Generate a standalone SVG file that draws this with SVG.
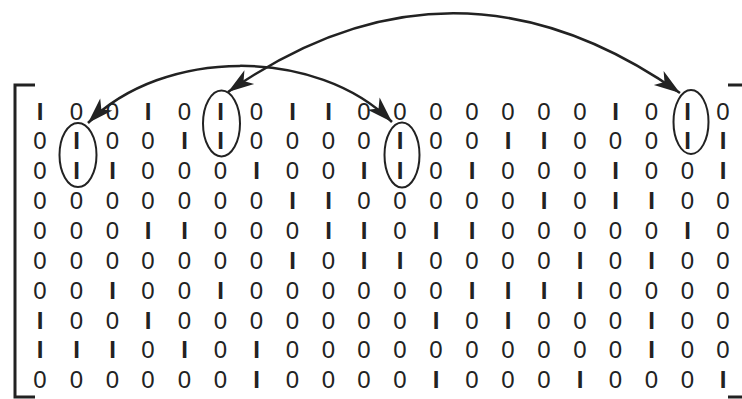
<svg xmlns="http://www.w3.org/2000/svg" width="742" height="399" viewBox="0 0 742 399">
<style>
text{font-family:"Liberation Sans",Arial,sans-serif;font-size:24px;fill:#222;text-anchor:middle}
text.i{font-weight:700}
.br{fill:none;stroke:#222;stroke-width:3}
.el{fill:none;stroke:#222;stroke-width:2}
.arc{fill:none;stroke:#222;stroke-width:2.5}
</style>
<defs>
<marker id="ah" markerUnits="userSpaceOnUse" viewBox="-28 -10 30 20" markerWidth="30" markerHeight="20" refX="0" refY="0" orient="auto-start-reverse" overflow="visible">
<path d="M0,0 L-26,-8.5 L-19,0 L-26,8.5 Z" fill="#222"/>
</marker>
</defs>
<g id="brackets">
<path class="br" d="M35,85 H15 V397 H35"/>
<path class="br" d="M728,85 H744 V397 H728"/>
</g>
<g id="matrix">
<g id="row1">
<text class="i" x="40" y="119.5">I</text><text x="76.5" y="119.5">0</text><text x="112.5" y="119.5">0</text><text class="i" x="148" y="119.5">I</text><text x="184.5" y="119.5">0</text><text class="i" x="220.5" y="119.5">I</text><text x="256.5" y="119.5">0</text><text class="i" x="292.5" y="119.5">I</text><text class="i" x="328.5" y="119.5">I</text><text x="364" y="119.5">0</text><text x="400" y="119.5">0</text><text x="436" y="119.5">0</text><text x="472" y="119.5">0</text><text x="508" y="119.5">0</text><text x="544" y="119.5">0</text><text x="580" y="119.5">0</text><text class="i" x="615.5" y="119.5">I</text><text x="651.5" y="119.5">0</text><text class="i" x="687.5" y="119.5">I</text><text x="723" y="119.5">0</text>
</g>
<g id="row2">
<text x="40" y="149.4">0</text><text class="i" x="76.5" y="149.4">I</text><text x="112.5" y="149.4">0</text><text x="148" y="149.4">0</text><text class="i" x="184.5" y="149.4">I</text><text class="i" x="220.5" y="149.4">I</text><text x="256.5" y="149.4">0</text><text x="292.5" y="149.4">0</text><text x="328.5" y="149.4">0</text><text x="364" y="149.4">0</text><text class="i" x="400" y="149.4">I</text><text x="436" y="149.4">0</text><text x="472" y="149.4">0</text><text class="i" x="508" y="149.4">I</text><text class="i" x="544" y="149.4">I</text><text x="580" y="149.4">0</text><text x="615.5" y="149.4">0</text><text x="651.5" y="149.4">0</text><text class="i" x="687.5" y="149.4">I</text><text class="i" x="723" y="149.4">I</text>
</g>
<g id="row3">
<text x="40" y="179.2">0</text><text class="i" x="76.5" y="179.2">I</text><text class="i" x="112.5" y="179.2">I</text><text x="148" y="179.2">0</text><text x="184.5" y="179.2">0</text><text x="220.5" y="179.2">0</text><text class="i" x="256.5" y="179.2">I</text><text x="292.5" y="179.2">0</text><text x="328.5" y="179.2">0</text><text class="i" x="364" y="179.2">I</text><text class="i" x="400" y="179.2">I</text><text x="436" y="179.2">0</text><text class="i" x="472" y="179.2">I</text><text x="508" y="179.2">0</text><text x="544" y="179.2">0</text><text x="580" y="179.2">0</text><text class="i" x="615.5" y="179.2">I</text><text x="651.5" y="179.2">0</text><text x="687.5" y="179.2">0</text><text class="i" x="723" y="179.2">I</text>
</g>
<g id="row4">
<text x="40" y="209.1">0</text><text x="76.5" y="209.1">0</text><text x="112.5" y="209.1">0</text><text x="148" y="209.1">0</text><text x="184.5" y="209.1">0</text><text x="220.5" y="209.1">0</text><text x="256.5" y="209.1">0</text><text class="i" x="292.5" y="209.1">I</text><text class="i" x="328.5" y="209.1">I</text><text x="364" y="209.1">0</text><text x="400" y="209.1">0</text><text x="436" y="209.1">0</text><text x="472" y="209.1">0</text><text x="508" y="209.1">0</text><text class="i" x="544" y="209.1">I</text><text x="580" y="209.1">0</text><text class="i" x="615.5" y="209.1">I</text><text class="i" x="651.5" y="209.1">I</text><text x="687.5" y="209.1">0</text><text x="723" y="209.1">0</text>
</g>
<g id="row5">
<text x="40" y="238.9">0</text><text x="76.5" y="238.9">0</text><text x="112.5" y="238.9">0</text><text class="i" x="148" y="238.9">I</text><text class="i" x="184.5" y="238.9">I</text><text x="220.5" y="238.9">0</text><text x="256.5" y="238.9">0</text><text x="292.5" y="238.9">0</text><text class="i" x="328.5" y="238.9">I</text><text class="i" x="364" y="238.9">I</text><text x="400" y="238.9">0</text><text class="i" x="436" y="238.9">I</text><text class="i" x="472" y="238.9">I</text><text x="508" y="238.9">0</text><text x="544" y="238.9">0</text><text x="580" y="238.9">0</text><text x="615.5" y="238.9">0</text><text x="651.5" y="238.9">0</text><text class="i" x="687.5" y="238.9">I</text><text x="723" y="238.9">0</text>
</g>
<g id="row6">
<text x="40" y="268.8">0</text><text x="76.5" y="268.8">0</text><text x="112.5" y="268.8">0</text><text x="148" y="268.8">0</text><text x="184.5" y="268.8">0</text><text x="220.5" y="268.8">0</text><text x="256.5" y="268.8">0</text><text class="i" x="292.5" y="268.8">I</text><text x="328.5" y="268.8">0</text><text class="i" x="364" y="268.8">I</text><text class="i" x="400" y="268.8">I</text><text x="436" y="268.8">0</text><text x="472" y="268.8">0</text><text x="508" y="268.8">0</text><text x="544" y="268.8">0</text><text class="i" x="580" y="268.8">I</text><text x="615.5" y="268.8">0</text><text class="i" x="651.5" y="268.8">I</text><text x="687.5" y="268.8">0</text><text x="723" y="268.8">0</text>
</g>
<g id="row7">
<text x="40" y="298.6">0</text><text x="76.5" y="298.6">0</text><text class="i" x="112.5" y="298.6">I</text><text x="148" y="298.6">0</text><text x="184.5" y="298.6">0</text><text class="i" x="220.5" y="298.6">I</text><text x="256.5" y="298.6">0</text><text x="292.5" y="298.6">0</text><text x="328.5" y="298.6">0</text><text x="364" y="298.6">0</text><text x="400" y="298.6">0</text><text x="436" y="298.6">0</text><text class="i" x="472" y="298.6">I</text><text class="i" x="508" y="298.6">I</text><text class="i" x="544" y="298.6">I</text><text class="i" x="580" y="298.6">I</text><text x="615.5" y="298.6">0</text><text x="651.5" y="298.6">0</text><text x="687.5" y="298.6">0</text><text x="723" y="298.6">0</text>
</g>
<g id="row8">
<text class="i" x="40" y="328.5">I</text><text x="76.5" y="328.5">0</text><text x="112.5" y="328.5">0</text><text class="i" x="148" y="328.5">I</text><text x="184.5" y="328.5">0</text><text x="220.5" y="328.5">0</text><text x="256.5" y="328.5">0</text><text x="292.5" y="328.5">0</text><text x="328.5" y="328.5">0</text><text x="364" y="328.5">0</text><text x="400" y="328.5">0</text><text class="i" x="436" y="328.5">I</text><text x="472" y="328.5">0</text><text class="i" x="508" y="328.5">I</text><text x="544" y="328.5">0</text><text x="580" y="328.5">0</text><text x="615.5" y="328.5">0</text><text class="i" x="651.5" y="328.5">I</text><text x="687.5" y="328.5">0</text><text x="723" y="328.5">0</text>
</g>
<g id="row9">
<text class="i" x="40" y="358.3">I</text><text class="i" x="76.5" y="358.3">I</text><text class="i" x="112.5" y="358.3">I</text><text x="148" y="358.3">0</text><text class="i" x="184.5" y="358.3">I</text><text x="220.5" y="358.3">0</text><text class="i" x="256.5" y="358.3">I</text><text x="292.5" y="358.3">0</text><text x="328.5" y="358.3">0</text><text x="364" y="358.3">0</text><text x="400" y="358.3">0</text><text x="436" y="358.3">0</text><text x="472" y="358.3">0</text><text x="508" y="358.3">0</text><text x="544" y="358.3">0</text><text x="580" y="358.3">0</text><text x="615.5" y="358.3">0</text><text class="i" x="651.5" y="358.3">I</text><text x="687.5" y="358.3">0</text><text x="723" y="358.3">0</text>
</g>
<g id="row10">
<text x="40" y="388.2">0</text><text x="76.5" y="388.2">0</text><text x="112.5" y="388.2">0</text><text x="148" y="388.2">0</text><text x="184.5" y="388.2">0</text><text x="220.5" y="388.2">0</text><text class="i" x="256.5" y="388.2">I</text><text x="292.5" y="388.2">0</text><text x="328.5" y="388.2">0</text><text x="364" y="388.2">0</text><text x="400" y="388.2">0</text><text class="i" x="436" y="388.2">I</text><text x="472" y="388.2">0</text><text x="508" y="388.2">0</text><text x="544" y="388.2">0</text><text class="i" x="580" y="388.2">I</text><text x="615.5" y="388.2">0</text><text x="651.5" y="388.2">0</text><text x="687.5" y="388.2">0</text><text class="i" x="723" y="388.2">I</text>
</g>
</g>
<g id="ellipseA"><ellipse class="el" cx="78" cy="155" rx="18.5" ry="32"/></g>
<g id="ellipseB"><ellipse class="el" cx="221.5" cy="123.5" rx="18.5" ry="33"/></g>
<g id="ellipseC"><ellipse class="el" cx="402" cy="155" rx="17.5" ry="32.5"/></g>
<g id="ellipseD"><ellipse class="el" cx="691" cy="122" rx="17.5" ry="32"/></g>
<g id="connectors">
<path class="arc" d="M88,123 C163,47 317,47 392,122" marker-start="url(#ah)" marker-end="url(#ah)"/>
<path class="arc" d="M228,92 Q454,-66 680,93" marker-start="url(#ah)" marker-end="url(#ah)"/>
</g>
</svg>
